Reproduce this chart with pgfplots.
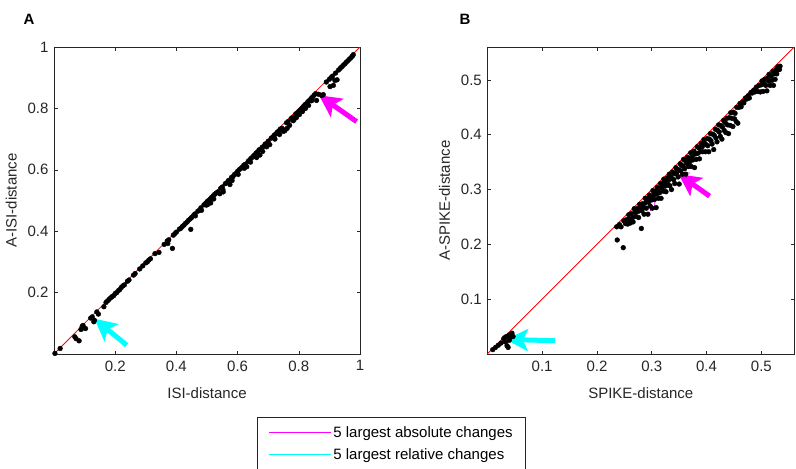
\documentclass[border=0pt]{standalone}
\usepackage{pgfplots}
\pgfplotsset{compat=1.18}
\usepackage{fontspec}
\setmainfont{Liberation Sans}
\usetikzlibrary{arrows.meta}
\definecolor{mag}{RGB}{255,0,255}
\definecolor{cya}{RGB}{0,255,255}
\definecolor{axgray}{RGB}{38,38,38}
\newcommand\ff{\fontsize{15}{18}\selectfont}

\pgfplotstableread{
x y
0.003 0.002
0.02 0.018
0.068 0.056
0.072 0.050
0.082 0.043
0.088 0.080
0.092 0.090
0.095 0.093
0.098 0.085
0.103 0.083
0.120 0.117
0.125 0.121
0.130 0.105
0.132 0.110
0.140 0.137
0.145 0.130
0.163 0.154
0.170 0.168
0.175 0.173
0.180 0.178
0.185 0.183
0.190 0.187
0.195 0.190
0.200 0.197
0.205 0.200
0.210 0.206
0.215 0.210
0.220 0.217
0.225 0.222
0.230 0.225
0.240 0.237
0.245 0.241
0.260 0.257
0.265 0.262
0.280 0.277
0.290 0.287
0.300 0.297
0.305 0.300
0.310 0.306
0.315 0.310
0.330 0.327
0.343 0.331
0.360 0.357
0.370 0.368
0.372 0.360
0.375 0.372
0.387 0.344
0.390 0.387
0.395 0.392
0.400 0.397
0.410 0.407
0.415 0.410
0.420 0.416
0.425 0.420
0.430 0.426
0.435 0.430
0.440 0.436
0.445 0.440
0.447 0.406
0.450 0.445
0.455 0.450
0.460 0.456
0.462 0.450
0.470 0.465
0.475 0.468
0.480 0.476
0.482 0.468
0.490 0.486
0.495 0.490
0.500 0.496
0.498 0.485
0.502 0.487
0.505 0.500
0.510 0.505
0.512 0.492
0.515 0.510
0.520 0.515
0.522 0.505
0.525 0.520
0.530 0.524
0.535 0.528
0.542 0.522
0.545 0.540
0.550 0.544
0.552 0.535
0.553 0.528
0.560 0.555
0.565 0.558
0.570 0.565
0.575 0.552
0.580 0.575
0.582 0.565
0.585 0.578
0.590 0.585
0.595 0.588
0.600 0.595
0.602 0.585
0.605 0.600
0.610 0.604
0.615 0.608
0.620 0.615
0.622 0.605
0.625 0.618
0.630 0.610
0.635 0.628
0.640 0.633
0.642 0.625
0.645 0.638
0.650 0.643
0.655 0.648
0.660 0.654
0.662 0.640
0.665 0.658
0.670 0.665
0.673 0.648
0.680 0.673
0.682 0.660
0.685 0.676
0.690 0.684
0.695 0.675
0.700 0.693
0.705 0.682
0.710 0.703
0.715 0.707
0.720 0.713
0.722 0.700
0.725 0.717
0.730 0.723
0.735 0.727
0.737 0.715
0.740 0.733
0.745 0.735
0.750 0.725
0.752 0.730
0.755 0.728
0.760 0.753
0.762 0.735
0.765 0.757
0.770 0.745
0.775 0.767
0.780 0.770
0.782 0.760
0.785 0.765
0.790 0.782
0.792 0.770
0.795 0.785
0.800 0.790
0.802 0.780
0.805 0.795
0.810 0.800
0.812 0.790
0.815 0.806
0.820 0.812
0.822 0.800
0.825 0.815
0.830 0.822
0.832 0.810
0.835 0.826
0.840 0.832
0.842 0.825
0.845 0.837
0.850 0.843
0.855 0.848
0.858 0.826
0.865 0.846
0.875 0.842
0.880 0.845
0.890 0.886
0.900 0.895
0.902 0.871
0.905 0.900
0.910 0.905
0.913 0.875
0.918 0.891
0.920 0.915
0.925 0.893
0.930 0.925
0.935 0.930
0.940 0.935
0.945 0.940
0.950 0.945
0.955 0.950
0.960 0.955
0.965 0.960
0.970 0.965
0.975 0.970
0.978 0.975
}\dataA

\pgfplotstableread{
x y
0.010 0.008
0.015 0.012
0.020 0.016
0.025 0.020
0.030 0.028
0.032 0.030
0.033 0.022
0.035 0.032
0.036 0.015
0.038 0.012
0.040 0.035
0.040 0.025
0.042 0.030
0.045 0.038
0.047 0.032
0.236 0.232
0.237 0.208
0.241 0.236
0.244 0.232
0.248 0.194
0.249 0.243
0.252 0.238
0.254 0.245
0.256 0.237
0.258 0.254
0.259 0.246
0.261 0.239
0.263 0.256
0.265 0.249
0.266 0.241
0.268 0.265
0.270 0.259
0.271 0.251
0.273 0.265
0.275 0.260
0.276 0.249
0.278 0.273
0.279 0.267
0.281 0.229
0.282 0.261
0.283 0.274
0.285 0.268
0.286 0.255
0.288 0.284
0.289 0.276
0.290 0.266
0.292 0.284
0.293 0.255
0.294 0.278
0.296 0.290
0.297 0.270
0.298 0.287
0.300 0.281
0.301 0.266
0.302 0.298
0.304 0.290
0.305 0.282
0.306 0.297
0.308 0.267
0.309 0.292
0.310 0.304
0.312 0.284
0.313 0.301
0.314 0.294
0.316 0.311
0.317 0.284
0.318 0.303
0.320 0.311
0.321 0.297
0.322 0.319
0.324 0.306
0.325 0.314
0.326 0.296
0.328 0.321
0.329 0.308
0.330 0.316
0.332 0.328
0.333 0.307
0.334 0.324
0.336 0.300
0.337 0.320
0.338 0.332
0.340 0.318
0.341 0.329
0.342 0.311
0.344 0.340
0.345 0.329
0.346 0.337
0.348 0.323
0.349 0.336
0.350 0.310
0.352 0.347
0.353 0.334
0.354 0.344
0.356 0.328
0.357 0.343
0.358 0.355
0.360 0.338
0.361 0.353
0.362 0.328
0.364 0.348
0.365 0.359
0.367 0.342
0.368 0.357
0.369 0.350
0.371 0.367
0.372 0.342
0.374 0.361
0.375 0.354
0.377 0.370
0.378 0.340
0.380 0.365
0.381 0.355
0.383 0.378
0.384 0.366
0.386 0.376
0.387 0.356
0.389 0.369
0.390 0.384
0.392 0.378
0.393 0.369
0.395 0.391
0.396 0.385
0.398 0.369
0.399 0.382
0.401 0.393
0.402 0.380
0.404 0.369
0.405 0.392
0.407 0.402
0.408 0.389
0.410 0.383
0.411 0.401
0.413 0.373
0.414 0.399
0.416 0.410
0.417 0.394
0.419 0.387
0.420 0.408
0.422 0.418
0.423 0.405
0.425 0.397
0.426 0.417
0.428 0.392
0.429 0.414
0.431 0.426
0.432 0.408
0.434 0.422
0.435 0.404
0.437 0.430
0.438 0.418
0.440 0.402
0.441 0.431
0.443 0.417
0.444 0.440
0.446 0.430
0.448 0.415
0.449 0.441
0.451 0.429
0.452 0.439
0.454 0.424
0.455 0.450
0.457 0.421
0.459 0.450
0.461 0.457
0.463 0.451
0.466 0.460
0.468 0.458
0.471 0.467
0.473 0.465
0.476 0.471
0.478 0.467
0.481 0.477
0.483 0.476
0.486 0.481
0.488 0.478
0.491 0.487
0.493 0.479
0.496 0.490
0.498 0.478
0.500 0.491
0.501 0.498
0.503 0.479
0.505 0.493
0.506 0.501
0.508 0.490
0.510 0.480
0.511 0.503
0.513 0.498
0.514 0.510
0.516 0.490
0.518 0.507
0.519 0.499
0.521 0.516
0.522 0.490
0.524 0.511
0.525 0.501
0.527 0.519
0.528 0.511
0.530 0.524
0.531 0.519
0.533 0.519
0.534 0.525
}\dataB

\pgfplotsset{
  every axis/.append style={
    scale only axis,
    font=\ff,
    axis line style={axgray, line width=0.6pt},
    tick style={axgray, line width=0.6pt},
    tick align=inside,
    major tick length=3.5pt,
    tick label style={text=axgray, font=\ff},
    label style={text=axgray, font=\ff},
    xticklabel style={yshift=-3pt},
    yticklabel style={xshift=-2pt},
    xlabel style={yshift=-10pt},
    ylabel style={yshift=4pt},
    /pgf/number format/assume math mode=true,
    xtick pos=both, ytick pos=both,
  },
  dots/.style={only marks, mark=*, mark size=2.4pt, black, forget plot},
}

\begin{document}
\begin{tikzpicture}
\useasboundingbox (0,0) rectangle (796pt,-469pt);
\node[font=\ff\bfseries] at (29pt,-19pt) {A};
\node[font=\ff\bfseries] at (465pt,-19pt) {B};

\begin{axis}[
  at={(54pt,-354pt)}, anchor=south west,
  width=306pt, height=307pt,
  xmin=0, xmax=1, ymin=0, ymax=1,
  xtick={0.2,0.4,0.6,0.8,1}, ytick={0.2,0.4,0.6,0.8,1},
  xlabel={ISI-distance}, ylabel={A-ISI-distance},
  legend style={at={(1.103,-0.205)}, anchor=north, draw=axgray, line width=0.6pt,
    font=\ff, inner xsep=11pt, inner ysep=7pt, row sep=6pt},
  legend cell align=left,
  legend image code/.code={\draw[#1] (0pt,0pt) -- (62pt,0pt);},
]
\addplot[dots] table {\dataA};
\addplot[red, line width=0.8pt, forget plot] coordinates {(0,0) (1,1)};
\addplot[color=mag, line width=1pt] coordinates {(0.856,0.848) (0.875,0.840)};
\addlegendentry{5 largest absolute changes}
\addplot[color=cya, line width=1pt] coordinates {(0.125,0.115) (0.130,0.105)};
\addlegendentry{5 largest relative changes}
\addplot[mag, line width=0.8pt, forget plot] coordinates {(0.860,0.845) (0.872,0.849)};
\addplot[cya, line width=0.8pt, forget plot] coordinates {(0.138,0.135) (0.145,0.128)};
\addplot[mag, line width=5pt, -{Stealth[length=22pt, width=22pt, inset=5pt]}, forget plot]
  coordinates {(0.989,0.757) (0.866,0.843)};
\addplot[cya, line width=5pt, -{Stealth[length=22pt, width=22pt, inset=5pt]}, forget plot]
  coordinates {(0.2375,0.029) (0.132,0.115)};
\end{axis}

\begin{axis}[
  at={(487.3pt,-354pt)}, anchor=south west,
  width=307pt, height=307pt,
  xmin=0, xmax=0.56, ymin=0, ymax=0.56,
  xtick={0.1,0.2,0.3,0.4,0.5}, ytick={0.1,0.2,0.3,0.4,0.5},
  xlabel={SPIKE-distance}, ylabel={A-SPIKE-distance},
]
\addplot[dots] table {\dataB};
\addplot[red, line width=0.8pt] coordinates {(0,0) (0.56,0.56)};
\addplot[mag, line width=0.8pt] coordinates {(0.357,0.3546) (0.385,0.3533)};
\addplot[mag, line width=0.8pt] coordinates {(0.337,0.332) (0.370,0.330)};
\addplot[mag, line width=0.8pt] coordinates {(0.279,0.268) (0.309,0.268)};
\addplot[mag, line width=0.8pt] coordinates {(0.298,0.287) (0.298,0.260)};
\addplot[mag, line width=0.8pt] coordinates {(0.306,0.281) (0.305,0.265)};
\addplot[cya, line width=0.8pt] coordinates {(0.033,0.028) (0.038,0.022)};
\addplot[cya, line width=0.8pt] coordinates {(0.036,0.020) (0.040,0.030)};
\addplot[mag, line width=5pt, -{Stealth[length=22pt, width=22pt, inset=5pt]}]
  coordinates {(0.4055,0.288) (0.349,0.328)};
\addplot[cya, line width=5pt, -{Stealth[length=22pt, width=22pt, inset=5pt]}]
  coordinates {(0.1237,0.0243) (0.034,0.0265)};
\end{axis}
\end{tikzpicture}
\end{document}
